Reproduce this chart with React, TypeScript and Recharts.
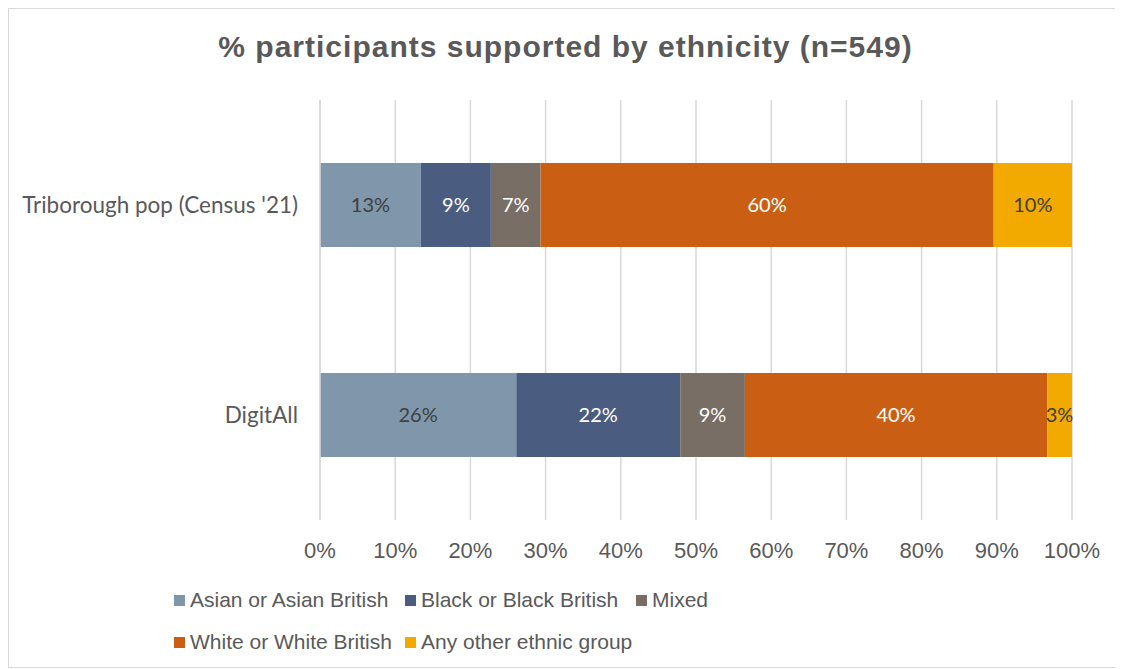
import { Bar, BarChart, CartesianGrid, LabelList, XAxis, YAxis } from "recharts";

const categories = ["Triborough pop (Census '21)", "DigitAll"];
const asian = [13.4, 26.1];
const black = [9.3, 21.8];
const mixed = [6.6, 8.6];
const white = [60.2, 40.2];
const other = [10.4, 3.3];
const xTicks = [0, 0.1, 0.2, 0.3, 0.4, 0.5, 0.6, 0.7, 0.8, 0.9, 1];

const series = [
  { key: "asian", label: "Asian or Asian British", color: "#7F96AB", text: "#404040" },
  { key: "black", label: "Black or Black British", color: "#4A5D80", text: "#ffffff" },
  { key: "mixed", label: "Mixed", color: "#786E65", text: "#ffffff" },
  { key: "white", label: "White or White British", color: "#CA5F14", text: "#ffffff" },
  { key: "other", label: "Any other ethnic group", color: "#F2A900", text: "#404040" },
];

const data = categories.map((name, i) => ({
  name,
  asian: asian[i],
  black: black[i],
  mixed: mixed[i],
  white: white[i],
  other: other[i],
}));

const grey = "#595959";
const gridColor = "#d9d9d9";

export default function App() {
  return (
    <div
      style={{
        position: "relative",
        width: 1115,
        height: 660,
        boxSizing: "border-box",
        border: `1px solid ${gridColor}`,
        background: "#fff",
        fontFamily: "'Liberation Sans', Arial, sans-serif",
      }}
    >
      <div
        style={{
          position: "absolute",
          top: 21,
          left: 0,
          width: "100%",
          textAlign: "center",
          fontSize: 30,
          letterSpacing: 1,
          fontWeight: "bold",
          color: grey,
        }}
      >
        % participants supported by ethnicity (n=549)
      </div>
      <BarChart
        width={1113}
        height={658}
        data={data}
        layout="vertical"
        stackOffset="expand"
        barCategoryGap="30%"
        margin={{ top: 91, right: 50, left: 11, bottom: 107 }}
      >
        <CartesianGrid horizontal={false} stroke={gridColor} strokeWidth={1.5} />
        <XAxis
          type="number"
          domain={[0, 1]}
          ticks={xTicks}
          tickFormatter={(v: number) => `${Math.round(v * 100)}%`}
          axisLine={false}
          tickLine={false}
          tickSize={0}
          tickMargin={22}
          height={40}
          tick={{ fill: grey, fontSize: 22, fontFamily: "'Liberation Sans', Arial, sans-serif" }}
        />
        <YAxis
          type="category"
          dataKey="name"
          width={300}
          axisLine={{ stroke: gridColor, strokeWidth: 1.5 }}
          tickLine={false}
          tickSize={0}
          tickMargin={22}
          tick={{ fill: grey, fontSize: 22.5, fontFamily: "Lato, sans-serif" }}
        />
        {series.map((s) => (
          <Bar key={s.key} dataKey={s.key} stackId="a" fill={s.color} isAnimationActive={false}>
            <LabelList
              dataKey={s.key}
              position="center"
              formatter={(v: number) => `${Math.round(v)}%`}
              fill={s.text}
              style={{ fontSize: 20, fontFamily: "Lato, sans-serif" }}
            />
          </Bar>
        ))}
      </BarChart>
      <div
        style={{
          position: "absolute",
          left: 165,
          top: 579,
          display: "grid",
          gridTemplateColumns: "231px 231px 231px",
          rowGap: 18,
          fontSize: 21,
          color: grey,
        }}
      >
        {series.map((s) => (
          <div key={s.key} style={{ display: "flex", alignItems: "center", whiteSpace: "nowrap" }}>
            <span
              style={{
                width: 11,
                height: 11,
                flexShrink: 0,
                background: s.color,
                marginRight: 5,
                display: "inline-block",
              }}
            />
            {s.label}
          </div>
        ))}
      </div>
    </div>
  );
}
